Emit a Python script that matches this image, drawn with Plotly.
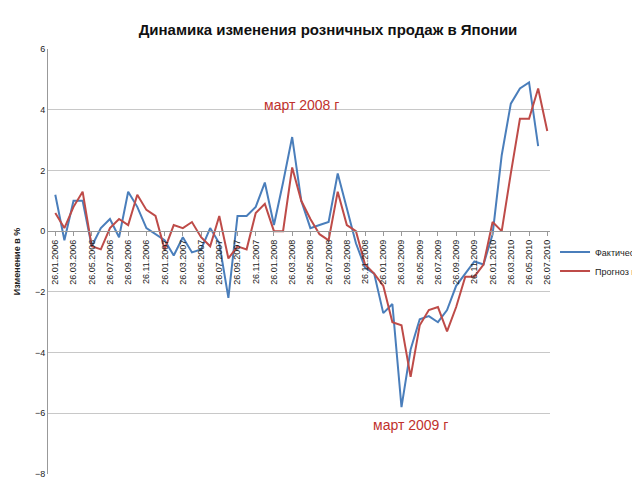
import plotly.graph_objects as go

# Monthly dates 26.01.2006 .. 26.07.2010
dates = ["26.%02d.%d" % (m, y) for y in range(2006, 2011) for m in range(1, 13)]
dates = dates[:55]

actual = [1.2, -0.3, 1.0, 1.0, -0.5, 0.1, 0.4, -0.2, 1.3, 0.8, 0.1, -0.1,
          -0.3, -0.8, -0.2, -0.7, -0.6, 0.1, -0.4, -2.2, 0.5, 0.5, 0.8, 1.6,
          0.2, 1.6, 3.1, 1.0, 0.1, 0.2, 0.3, 1.9, 0.7, -0.4, -1.2, -1.4,
          -2.7, -2.4, -5.8, -3.9, -2.9, -2.8, -3.0, -2.6, -1.8, -1.4, -1.0, -1.1,
          -0.1, 2.5, 4.2, 4.7, 4.9, 2.8]

forecast = [0.6, 0.1, 0.8, 1.3, -0.5, -0.6, 0.1, 0.4, 0.2, 1.2, 0.7, 0.5,
            -0.6, 0.2, 0.1, 0.3, -0.2, -0.5, 0.5, -0.9, -0.5, -0.6, 0.6, 0.9,
            0.0, 0.0, 2.1, 1.0, 0.4, -0.1, -0.3, 1.3, 0.2, 0.0, -1.1, -1.4,
            -1.8, -3.0, -3.1, -4.8, -3.1, -2.6, -2.5, -3.3, -2.5, -1.5, -1.5, -1.1,
            0.3, 0.0, 1.9, 3.7, 3.7, 4.7, 3.3]

fig = go.Figure()
fig.add_trace(go.Scatter(x=dates[:len(actual)], y=actual, mode="lines",
                         name="Фактически в %", line=dict(color="#4A7EBB", width=2)))
fig.add_trace(go.Scatter(x=dates, y=forecast, mode="lines",
                         name="Прогноз в %", line=dict(color="#BE4B48", width=2)))

fig.add_annotation(x=dates[27], y=4.15, text="март 2008 г", showarrow=False,
                   font=dict(size=14, color="#C0312D"))
fig.add_annotation(x=dates[39], y=-6.4, text="март 2009 г", showarrow=False,
                   font=dict(size=14, color="#C0312D"))

fig.update_layout(
    width=640, height=477,
    paper_bgcolor="white", plot_bgcolor="white",
    margin=dict(l=40, r=98, t=41, b=11, autoexpand=False),
    font=dict(family="Liberation Sans", color="#222"),
    title=dict(text="<b>Динамика изменения розничных продаж в Японии</b>",
               x=0.5, y=0.965, xanchor="center", font=dict(size=15, color="#111")),
    legend=dict(x=1.01, y=0.5, yanchor="middle", font=dict(size=9),
                bgcolor="rgba(0,0,0,0)", tracegroupgap=8),
    xaxis=dict(type="category", tickvals=dates[::2], ticktext=dates[::2],
               tickangle=-90, tickfont=dict(size=9), showgrid=False,
               anchor="free", position=8 / 14, showline=True, linecolor="#999",
               ticks="outside", ticklen=4, tickcolor="#999",
               range=[-0.8, 54.3], automargin=False),
    yaxis=dict(range=[-8, 6], dtick=2, gridcolor="#C8C8C8", tickfont=dict(size=9),
               showline=True, linecolor="#999", zeroline=False, automargin=False,
               title=dict(text="<b>Изменение в %</b>", font=dict(size=9), standoff=12)),
)

fig.write_html("out.html")
